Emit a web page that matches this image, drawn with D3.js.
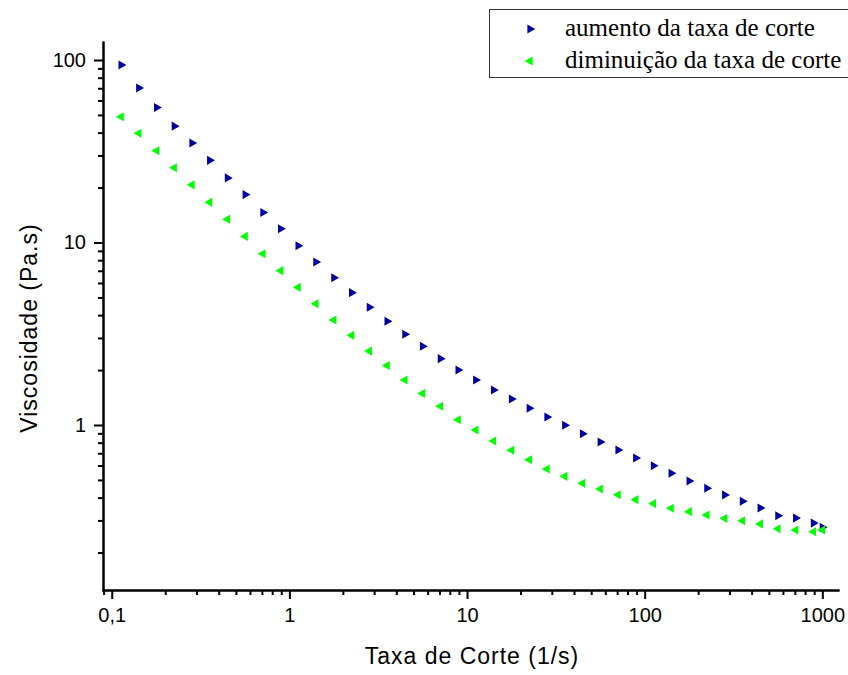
<!DOCTYPE html>
<meta charset="utf-8">
<style>
body { margin: 0; background: #fff; }
.axis path, .axis line { stroke: #000; stroke-width: 2px; }
.axis text { font-family: Arial, "Liberation Sans", sans-serif; font-size: 20px; fill: #000; }
.title { font-family: Arial, "Liberation Sans", sans-serif; font-size: 23px; letter-spacing: 1px; }
.legend text { font-family: "Times New Roman", "Liberation Serif", serif; font-size: 25px; }
</style>
<body>
<svg width="848" height="675"></svg>
<script src="https://cdn.jsdelivr.net/npm/d3@7"></script>
<script>

// shear rate (1/s)
var taxa = [0.113, 0.142, 0.179, 0.225, 0.283, 0.356, 0.448, 0.564, 0.710, 0.893,
            1.12, 1.41, 1.78, 2.24, 2.82, 3.55, 4.47, 5.62, 7.08, 8.91,
            11.2, 14.1, 17.8, 22.4, 28.2, 35.5, 44.7, 56.2, 70.8, 89.1,
            112, 141, 178, 224, 282, 355, 447, 562, 708, 891, 1000];

// viscosity (Pa.s), increasing shear rate
var aumento = [93.9, 70.2, 54.9, 43.4, 35.1, 28.2, 22.6, 18.3, 14.6, 11.9,
               9.60, 7.82, 6.41, 5.31, 4.42, 3.70, 3.14, 2.70, 2.31, 2.00,
               1.765, 1.555, 1.388, 1.235, 1.106, 0.996, 0.896, 0.807, 0.730, 0.659,
               0.598, 0.544, 0.493, 0.450, 0.414, 0.382, 0.351, 0.318, 0.309, 0.290, 0.275];

// viscosity (Pa.s), decreasing shear rate
var diminuicao = [48.9, 39.7, 31.8, 25.7, 20.7, 16.6, 13.4, 10.8, 8.68, 7.01,
                  5.68, 4.62, 3.76, 3.10, 2.54, 2.12, 1.765, 1.49, 1.266, 1.069,
                  0.939, 0.817, 0.727, 0.645, 0.574, 0.523, 0.479, 0.446, 0.415, 0.390,
                  0.371, 0.350, 0.335, 0.321, 0.308, 0.299, 0.287, 0.270, 0.266, 0.260, 0.266];

var xMajor = [0.1, 1, 10, 100, 1000];
var yMajor = [1, 10, 100];
var legendLabels = ["aumento da taxa de corte", "diminuição da taxa de corte"];
var colors = ["#00009c", "#00ff00"];

var svg = d3.select("svg");
var mLeft = 103, mRight = 838, mTop = 42, mBottom = 590;

var x = d3.scaleLog().domain([0.0893, 1225]).range([mLeft, mRight]);
var y = d3.scaleLog().domain([0.1247, 125.5]).range([mBottom, mTop]);

var pt = d3.formatLocale({decimal: ",", thousands: "", grouping: [3], currency: ["", ""]});
var fmt = function(d) { return pt.format("~g")(d); };

// ticks at 2..9 of each decade
function minors(scale) {
  return scale.ticks().filter(function(t) {
    var m = t / Math.pow(10, Math.floor(Math.log10(t) + 1e-9));
    return Math.abs(m - 1) > 1e-6;
  });
}

// minor ticks
svg.append("g").attr("class", "axis")
  .attr("transform", "translate(0," + mBottom + ")")
  .call(d3.axisBottom(x).tickValues(minors(x)).tickSize(5).tickSizeOuter(0).tickFormat(""));
svg.append("g").attr("class", "axis")
  .attr("transform", "translate(" + mLeft + ",0)")
  .call(d3.axisLeft(y).tickValues(minors(y)).tickSize(5).tickSizeOuter(0).tickFormat(""));

// major ticks + labels
svg.append("g").attr("class", "axis")
  .attr("transform", "translate(0," + mBottom + ")")
  .call(d3.axisBottom(x).tickValues(xMajor).tickSize(9).tickPadding(9).tickSizeOuter(0).tickFormat(fmt));
svg.append("g").attr("class", "axis")
  .attr("transform", "translate(" + mLeft + ",0)")
  .call(d3.axisLeft(y).tickValues(yMajor).tickSize(9).tickPadding(8).tickSizeOuter(0).tickFormat(fmt));

svg.selectAll(".axis path").attr("stroke-linecap", "square");

// axis titles
svg.append("text").attr("class", "title")
  .attr("x", 472).attr("y", 664)
  .attr("text-anchor", "middle")
  .text("Taxa de Corte (1/s)");
svg.append("text").attr("class", "title")
  .attr("transform", "translate(37,328) rotate(-90)")
  .attr("text-anchor", "middle")
  .text("Viscosidade (Pa.s)");

var tri = d3.symbol().type(d3.symbolTriangle).size(36);

function series(vals, color, rot) {
  svg.append("g").selectAll("path")
    .data(vals)
    .enter().append("path")
      .attr("d", tri)
      .attr("fill", color)
      .attr("transform", function(d, i) {
        return "translate(" + x(taxa[i]) + "," + y(d) + ") rotate(" + rot + ")";
      });
}
series(aumento, colors[0], 90);
series(diminuicao, colors[1], -90);

// legend
var lg = svg.append("g").attr("class", "legend");
lg.append("rect")
  .attr("x", 489.5).attr("y", 9.5).attr("width", 370).attr("height", 68)
  .attr("fill", "#fff").attr("stroke", "#333").attr("stroke-width", 1);
var rows = [29, 61];
legendLabels.forEach(function(label, i) {
  lg.append("path")
    .attr("d", tri)
    .attr("fill", colors[i])
    .attr("transform", "translate(530," + rows[i] + ") rotate(" + (i === 0 ? 90 : -90) + ")");
  lg.append("text")
    .attr("x", 565).attr("y", rows[i] + 7)
    .text(label);
});

</script>
</body>
